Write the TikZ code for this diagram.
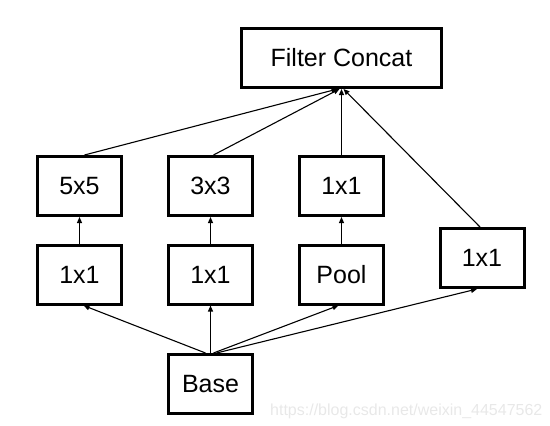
\documentclass[tikz,border=0pt]{standalone}
\usepackage{fontspec}
\setmainfont{Liberation Sans}
\usetikzlibrary{arrows.meta,calc}
\begin{document}
\begin{tikzpicture}[x=1pt,y=-1pt,
  blk/.style={draw=black,line width=3pt,minimum width=84pt,minimum height=59pt,inner sep=0pt,font=\fontsize{25}{30}\selectfont},
  arr/.style={line width=1.1pt,-{Triangle[length=6pt,width=5pt]}}]
\useasboundingbox (0,0) rectangle (550,426);
\node[blk,minimum width=200pt] (fc) at (341.5,58) {Filter Concat};
\node[blk] (c5) at (79.5,186) {5x5};
\node[blk] (c3) at (210.5,186) {3x3};
\node[blk] (c1) at (341.5,186) {1x1};
\node[blk] (r5) at (79.5,274.5) {1x1};
\node[blk] (r3) at (210.5,274.5) {1x1};
\node[blk] (pool) at (341.5,274.5) {Pool};
\node[blk] (r1) at (482,258) {1x1};
\node[blk] (base) at (210.5,384) {Base};
\node[text=black!9,font=\fontsize{16}{19}\selectfont,anchor=base west,inner sep=0pt] (wm) at (270,415) {https://blog.csdn.net/weixin\_44547562};
% to filter concat
\draw[arr] ($(c5.north)+(5,0)$) -- ($(fc.south)+(-4,0)$);
\draw[arr] ($(c3.north)+(3,0)$) -- ($(fc.south)+(-2,0)$);
\draw[arr] (c1.north) -- (fc.south);
\draw[arr] ($(r1.north)+(-2,0)$) -- ($(fc.south)+(2,0)$);
% middle to top
\draw[arr] (r5.north) -- (c5.north |- c5.south);
\draw[arr] (r3.north) -- (c3.south);
\draw[arr] (pool.north) -- (c1.south);
% base to middle
\draw[arr] ($(base.north)+(-5,0)$) -- ($(r5.south)+(4,0)$);
\draw[arr] (base.north) -- (r3.south);
\draw[arr] ($(base.north)+(3,0)$) -- ($(pool.south)+(-3,0)$);
\draw[arr] ($(base.north)+(6,0)$) -- ($(r1.south)+(-5,0)$);
\end{tikzpicture}
\end{document}
